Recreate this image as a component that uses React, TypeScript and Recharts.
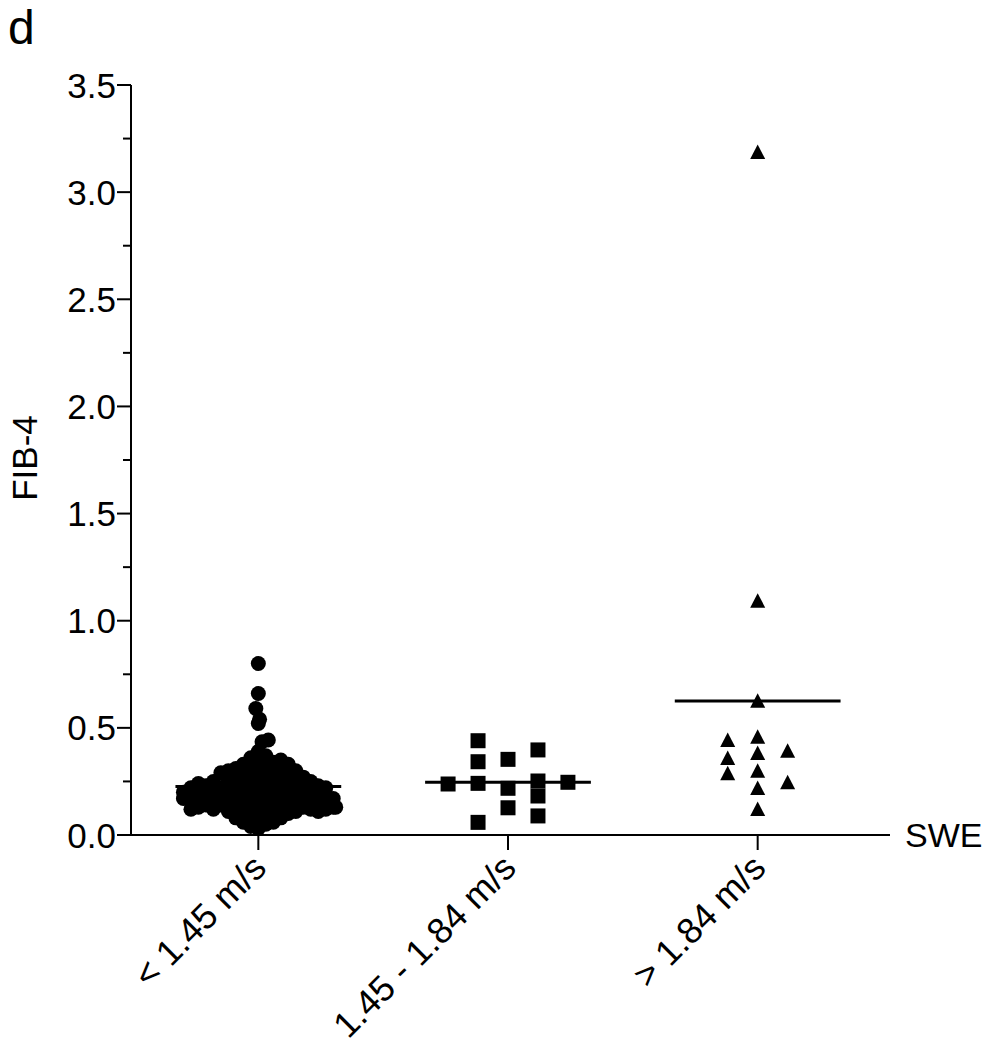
import React from "react";
import {
  ScatterChart,
  Scatter,
  XAxis,
  YAxis,
  ReferenceLine,
} from "recharts";

// group labels along the x axis
const categories = ["< 1.45 m/s", "1.45 - 1.84 m/s", "> 1.84 m/s"];

// FIB-4 values for SWE < 1.45 m/s, as columns of [horizontal offset, values]
const lowColumns: [number, number[]][] = [
  [-0.3, [0.17, 0.2]],
  [-0.27, [0.12, 0.16, 0.22]],
  [-0.24, [0.13, 0.18, 0.24]],
  [-0.21, [0.14, 0.19, 0.23]],
  [-0.18, [0.12, 0.16, 0.21, 0.25]],
  [-0.15, [0.14, 0.18, 0.22, 0.29]],
  [-0.12, [0.11, 0.15, 0.2, 0.25, 0.3]],
  [-0.09, [0.08, 0.12, 0.17, 0.21, 0.26, 0.31]],
  [-0.06, [0.06, 0.1, 0.14, 0.19, 0.23, 0.28, 0.33]],
  [-0.03, [0.04, 0.09, 0.13, 0.18, 0.22, 0.27, 0.31, 0.36]],
  [0, [0.03, 0.07, 0.12, 0.16, 0.21, 0.25, 0.3, 0.34, 0.39, 0.52, 0.66, 0.8]],
  [-0.01, [0.59]],
  [0.005, [0.54]],
  [0.015, [0.435]],
  [0.03, [0.05, 0.1, 0.14, 0.19, 0.23, 0.28, 0.32, 0.37]],
  [0.04, [0.443]],
  [0.06, [0.06, 0.11, 0.15, 0.2, 0.24, 0.29, 0.34]],
  [0.09, [0.08, 0.12, 0.17, 0.22, 0.26, 0.31, 0.35]],
  [0.12, [0.1, 0.14, 0.19, 0.23, 0.28, 0.33]],
  [0.15, [0.11, 0.16, 0.2, 0.25, 0.3]],
  [0.18, [0.13, 0.17, 0.22, 0.27]],
  [0.21, [0.12, 0.16, 0.21, 0.25]],
  [0.24, [0.11, 0.15, 0.2, 0.23]],
  [0.27, [0.12, 0.16, 0.22]],
  [0.3, [0.13, 0.17]],
  [0.31, [0.13]],
];

// SWE 1.45 - 1.84 m/s: [offset, value]
const midPoints: [number, number][] = [
  [-0.24, 0.238],
  [-0.12, 0.44],
  [-0.12, 0.342],
  [-0.12, 0.241],
  [-0.12, 0.059],
  [0, 0.353],
  [0, 0.218],
  [0, 0.127],
  [0.12, 0.397],
  [0.12, 0.252],
  [0.12, 0.182],
  [0.12, 0.089],
  [0.24, 0.246],
];

// SWE > 1.84 m/s: [offset, value]
const highPoints: [number, number][] = [
  [0, 3.183],
  [0, 1.089],
  [0, 0.622],
  [-0.12, 0.439],
  [0, 0.454],
  [-0.12, 0.355],
  [0, 0.378],
  [0.12, 0.389],
  [-0.12, 0.283],
  [0, 0.295],
  [0, 0.215],
  [0.12, 0.241],
  [0, 0.117],
];

// mean line per group
const groupMeans = [0.226, 0.246, 0.625];
const meanHalfWidth = 0.332;

const yTicks = [0, 0.25, 0.5, 0.75, 1, 1.25, 1.5, 1.75, 2, 2.25, 2.5, 2.75, 3, 3.25, 3.5];

const lowData = lowColumns.flatMap(([o, vs]) => vs.map((v) => ({ x: 1 + o, y: v })));
const midData = midPoints.map(([o, v]) => ({ x: 2 + o, y: v }));
const highData = highPoints.map(([o, v]) => ({ x: 3 + o, y: v }));

const FONT = "'Liberation Sans', Arial, Helvetica, sans-serif";

const CircleDot = (p: any) => <circle cx={p.cx} cy={p.cy} r={7.5} fill="#000" />;
const SquareDot = (p: any) => (
  <rect x={p.cx - 7.5} y={p.cy - 7.5} width={15} height={15} fill="#000" />
);
const TriangleDot = (p: any) => (
  <path
    d={`M${p.cx},${p.cy - 8.5} L${p.cx + 7.5},${p.cy + 6} L${p.cx - 7.5},${p.cy + 6} Z`}
    fill="#000"
  />
);

const YTick = (props: any) => {
  const { x, y, payload } = props;
  const major = Math.abs((payload.value * 2) % 1) < 1e-6;
  const len = major ? 14 : 8;
  return (
    <g>
      <line x1={x - len} y1={y} x2={x} y2={y} stroke="#000" strokeWidth={2} />
      {major && (
        <text
          x={x - 15}
          y={y}
          dy="0.36em"
          textAnchor="end"
          fontSize={35}
          fontFamily={FONT}
          fill="#000"
        >
          {payload.value.toFixed(1)}
        </text>
      )}
    </g>
  );
};

const XTick = (props: any) => {
  const { x, y, payload } = props;
  const label = categories[Math.round(payload.value) - 1];
  const tx = x + 10;
  const ty = y + 20;
  return (
    <text
      x={tx}
      y={ty}
      textAnchor="end"
      fontSize={36}
      fontFamily={FONT}
      fill="#000"
      transform={`rotate(-45 ${tx} ${ty})`}
    >
      {label}
    </text>
  );
};

export default function App() {
  return (
    <div
      style={{
        position: "absolute",
        left: 0,
        top: 0,
        width: 989,
        height: 1050,
        background: "#fff",
      }}
    >
      <ScatterChart
        width={989}
        height={1050}
        margin={{ top: 85, right: 99, bottom: 155, left: 71 }}
      >
        <XAxis
          type="number"
          dataKey="x"
          domain={[0.49, 3.53]}
          ticks={[1, 2, 3]}
          allowDataOverflow
          tickSize={15}
          tickMargin={0}
          height={60}
          axisLine={{ stroke: "#000", strokeWidth: 2 }}
          tickLine={{ stroke: "#000", strokeWidth: 2 }}
          tick={<XTick />}
        />
        <YAxis
          type="number"
          dataKey="y"
          domain={[0, 3.5]}
          ticks={yTicks}
          interval={0}
          width={60}
          tickSize={0}
          tickMargin={0}
          axisLine={{ stroke: "#000", strokeWidth: 2 }}
          tickLine={false}
          tick={<YTick />}
        />
        {groupMeans.map((m, i) => (
          <ReferenceLine
            key={i}
            segment={[
              { x: i + 1 - meanHalfWidth, y: m },
              { x: i + 1 + meanHalfWidth, y: m },
            ]}
            stroke="#000"
            strokeWidth={3}
          />
        ))}
        <Scatter data={lowData} shape={CircleDot} isAnimationActive={false} />
        <Scatter data={midData} shape={SquareDot} isAnimationActive={false} />
        <Scatter data={highData} shape={TriangleDot} isAnimationActive={false} />
        <text x={8} y={44} fontSize={48} fontFamily={FONT} fill="#000">
          d
        </text>
        <text
          x={24}
          y={458}
          dy="0.36em"
          textAnchor="middle"
          fontSize={35}
          fontFamily={FONT}
          fill="#000"
          transform="rotate(-90 24 458)"
        >
          FIB-4
        </text>
        <text
          x={905}
          y={835}
          dy="0.36em"
          fontSize={34}
          fontFamily={FONT}
          fill="#000"
        >
          SWE
        </text>
      </ScatterChart>
    </div>
  );
}
